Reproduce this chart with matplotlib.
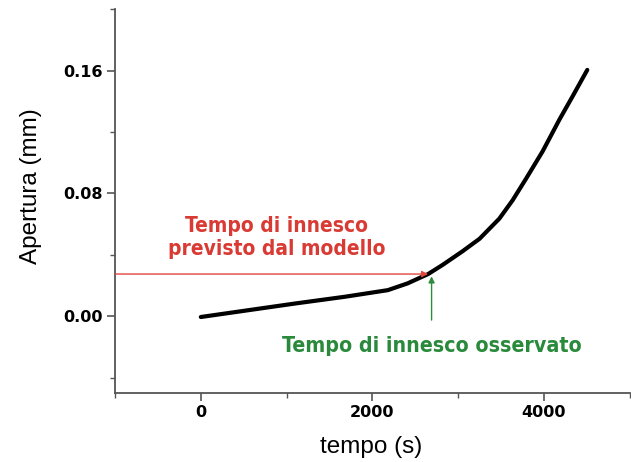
import matplotlib
matplotlib.use("Agg")
import matplotlib.pyplot as plt
from matplotlib.ticker import MultipleLocator

# Data
tempo = [0, 500, 1100, 1680, 2180, 2410, 2650, 2820, 3050, 3250, 3480, 3635, 3790, 3985,
         4180, 4335, 4505]
apertura = [-0.0005, 0.0035, 0.0083, 0.0127, 0.0170, 0.0214, 0.0275, 0.0335, 0.0423, 0.0505,
            0.0636, 0.0756, 0.0895, 0.1075, 0.1281, 0.1434, 0.1605]
t_previsto = 2650
a_previsto = 0.0275
t_osservato = 2690
xticks = [0, 2000, 4000]
yticks = [0.00, 0.08, 0.16]
ytick_labels = ["0.00", "0.08", "0.16"]

plt.rcParams['font.family'] = ['Liberation Sans', 'DejaVu Sans']

fig = plt.figure(figsize=(6.31, 4.62), dpi=100)
ax = fig.add_axes([0.1823, 0.1494, 0.8157, 0.8305])

ax.plot(tempo, apertura, color='black', lw=3.0, solid_capstyle='round', solid_joinstyle='round')

ax.set_xlim(-1000, 5000)
ax.set_ylim(-0.05, 0.2)
ax.set_xticks(xticks)
ax.set_yticks(yticks)
ax.set_yticklabels(ytick_labels)
ax.xaxis.set_minor_locator(MultipleLocator(1000))
ax.yaxis.set_minor_locator(MultipleLocator(0.04))

for s in ['top', 'right']:
    ax.spines[s].set_visible(False)
for s in ['left', 'bottom']:
    ax.spines[s].set_color('#555555')
    ax.spines[s].set_linewidth(1.3)

ax.tick_params(which='major', direction='out', length=6, width=1.2, color='#555555',
               labelsize=11.5, pad=3)
ax.tick_params(which='minor', direction='out', length=3.5, width=1.0, color='#555555')
for lab in ax.get_xticklabels() + ax.get_yticklabels():
    lab.set_fontweight('bold')
    lab.set_family('DejaVu Sans')

ax.set_xlabel('tempo (s)', fontsize=17.5)
ax.set_ylabel('Apertura (mm)', fontsize=17.5)
ax.xaxis.set_label_coords(0.498, -0.113)
ax.yaxis.set_label_coords(-0.142, 0.54)

# red arrow (predicted)
ax.annotate('', xy=(t_previsto, a_previsto), xytext=(-1000, a_previsto),
            arrowprops=dict(arrowstyle='-|>', color='#e0453e', lw=1.0,
                            mutation_scale=9, shrinkA=0, shrinkB=0))
# green arrow (observed)
ax.annotate('', xy=(t_osservato, a_previsto - 0.0015), xytext=(t_osservato, -0.0025),
            arrowprops=dict(arrowstyle='-|>', color='#2e8b3e', lw=1.0,
                            mutation_scale=9, shrinkA=0, shrinkB=0))

ax.text(880, 0.0515, 'Tempo di innesco\nprevisto dal modello', color='#d93a34',
        fontsize=15, fontweight='bold', fontstretch='condensed', family='DejaVu Sans',
        ha='center', va='center', linespacing=1.2)
ax.text(2690, -0.0195, 'Tempo di innesco osservato', color='#2a8a3c',
        fontsize=15.3, fontweight='bold', fontstretch='condensed', family='DejaVu Sans',
        ha='center', va='center')

fig.savefig('out.png', dpi=100)
